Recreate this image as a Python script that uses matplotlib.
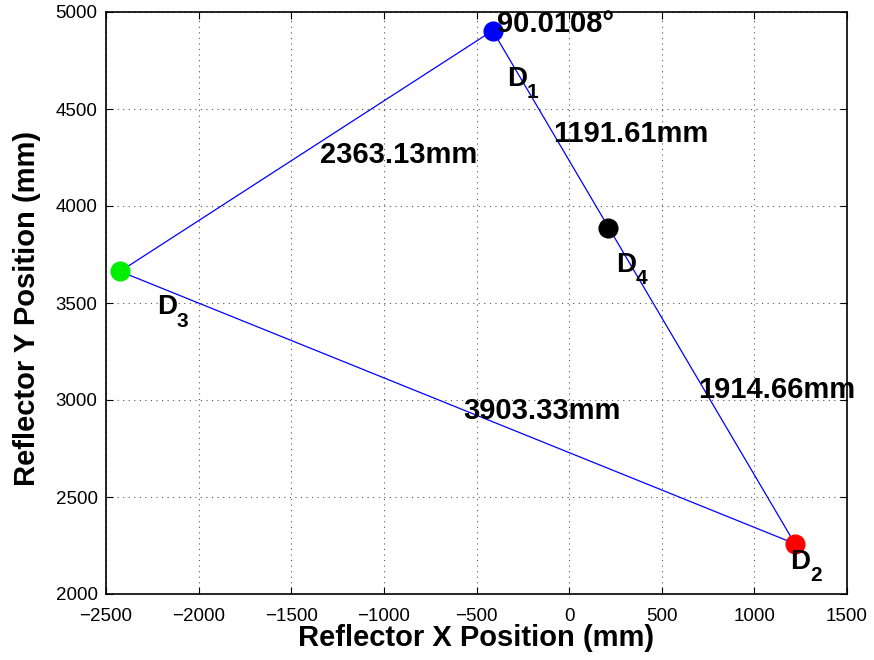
import matplotlib
matplotlib.use("Agg")
import matplotlib.pyplot as plt

plt.rcParams['font.family'] = ['Liberation Sans', 'DejaVu Sans']

# Reflector positions (mm)
names = ['D', 'D', 'D', 'D']
subs = ['1', '2', '3', '4']
px = [-413, 1219, -2424, 211]
py = [4904, 2259, 3663, 3889]
colors = ['#0000ff', '#ff0000', '#00ee00', '#000000']

# Triangle path (D3 -> D1 -> D2 -> D3)
path = [2, 0, 1, 2]

# Node label anchors (left, baseline)
node_lx = [-337, 1192, -2226, 253]
node_ly = [4620, 2130, 3443, 3661]

dist_labels = ['90.0108°', '1191.61mm', '2363.13mm', '1914.66mm', '3903.33mm']
dist_lx = [-391, -87, -1345, 696, -573]
dist_ly = [4899, 4332, 4224, 3012, 2904]

fig = plt.figure(figsize=(8.74, 6.6), dpi=100)
ax = fig.add_axes([106/874, 1-594/660, 741/874, 582/660])

ax.plot([px[i] for i in path], [py[i] for i in path], color='#0000ff', lw=0.9, zorder=2)
for x, y, c in zip(px, py, colors):
    ax.plot(x, y, 'o', color=c, markersize=13.5, zorder=3)

for n, s, x, y in zip(names, subs, node_lx, node_ly):
    ax.text(x, y, n, fontsize=20, fontweight='bold', ha='left', va='baseline', zorder=4)
    ax.annotate(s, (x, y), xytext=(14.4, -9), textcoords='offset points',
                fontsize=15, fontweight='bold', ha='left', va='baseline', zorder=4)
for s, x, y in zip(dist_labels, dist_lx, dist_ly):
    ax.text(x, y, s, fontsize=21, fontweight='bold', ha='left', va='baseline', zorder=4)

ax.set_xlim(-2500, 1500)
ax.set_ylim(2000, 5000)
ax.set_xticks(range(-2500, 1501, 500))
ax.set_yticks(range(2000, 5001, 500))
ax.tick_params(direction='in', labelsize=13.5, length=5, top=True, right=True, width=0.8)
ax.tick_params(axis='x', pad=10)
ax.tick_params(axis='y', pad=6)
ax.grid(True, linestyle=(0, (1, 4)), color='#555555', lw=0.8)
for sp in ax.spines.values():
    sp.set_linewidth(1.2)

ax.set_xlabel('Reflector X Position (mm)', fontsize=21, fontweight='bold', labelpad=-1)
ax.set_ylabel('Reflector Y Position (mm)', fontsize=21, fontweight='bold')
ax.yaxis.set_label_coords(-0.088, 0.49)

fig.savefig('out.png', dpi=100)
